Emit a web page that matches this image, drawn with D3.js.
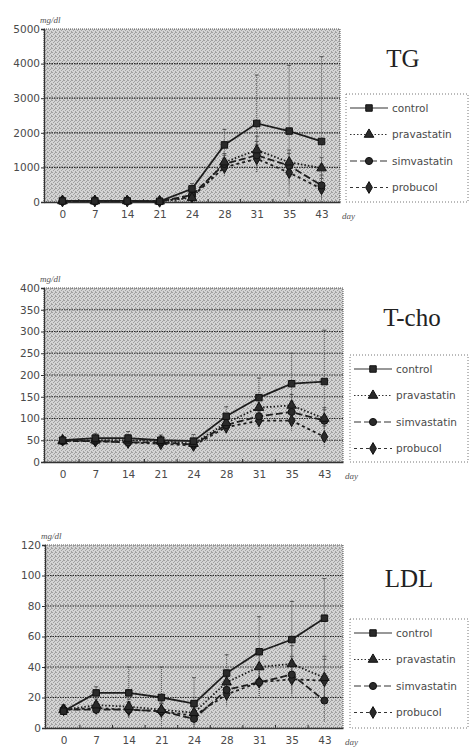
<!DOCTYPE html>
<html>
  <head>
    <meta charset="utf-8">
    <title>TG, T-cho and LDL over time</title>
    <script src="https://cdn.jsdelivr.net/npm/d3@7"></script>
    <style>
      body { margin: 0; background: #fff; }
      svg { display: block; }
      .tick text, .legendText { font-family: "DejaVu Sans", sans-serif; font-size: 10.5px; fill: #4a4a4a; }
      .title { font-family: "Liberation Serif", "DejaVu Serif", serif; font-size: 25px; fill: #222; }
      .unit, .dayLabel { font-family: "Liberation Serif", serif; font-size: 9px; fill: #555; font-style: italic; }
    </style>
  </head>
  <body>
    <svg id="chart" width="470" height="748"></svg>
    <script>
      // categories
      days = ["0", "7", "14", "21", "24", "28", "31", "35", "43"];
      groups = ["control", "pravastatin", "simvastatin", "probucol"];
      // TG (mg/dl)
      tgControl = [30, 30, 30, 20, 380, 1650, 2270, 2050, 1750];
      tgPrava = [30, 30, 30, 20, 120, 1150, 1500, 1150, 980];
      tgSimva = [30, 30, 30, 20, 200, 1100, 1350, 1050, 480];
      tgProbu = [30, 30, 30, 20, 150, 1000, 1250, 850, 380];
      tgControlSd = [20, 20, 20, 20, 150, 450, 1400, 1900, 2450];
      tgDrugSd = [10, 10, 10, 10, 80, 250, 400, 350, 300];
      tgTicks = [0, 1000, 2000, 3000, 4000, 5000];
      // T-cho (mg/dl)
      tchoControl = [50, 55, 55, 50, 48, 105, 148, 180, 185];
      tchoPrava = [48, 50, 50, 48, 42, 90, 125, 130, 100];
      tchoSimva = [48, 48, 45, 45, 40, 85, 105, 115, 95];
      tchoProbu = [50, 48, 45, 42, 38, 80, 95, 95, 58];
      tchoControlSd = [8, 10, 15, 12, 15, 22, 45, 70, 118];
      tchoDrugSd = [6, 8, 12, 10, 10, 15, 20, 25, 25];
      tchoTicks = [0, 50, 100, 150, 200, 250, 300, 350, 400];
      // LDL (mg/dl)
      ldlControl = [11, 23, 23, 20, 16, 36, 50, 58, 72];
      ldlPrava = [12, 15, 14, 12, 10, 30, 40, 42, 33];
      ldlSimva = [12, 12, 12, 11, 6, 25, 30, 35, 18];
      ldlProbu = [12, 13, 12, 11, 8, 22, 30, 32, 31];
      ldlControlSd = [3, 4, 17, 20, 17, 12, 23, 25, 26];
      ldlDrugSd = [3, 4, 5, 5, 6, 8, 10, 12, 14];
      ldlTicks = [0, 20, 40, 60, 80, 100, 120];

      // page layout for each panel
      panels = [
        { title: "TG", ticks: tgTicks, series: [tgControl, tgPrava, tgSimva, tgProbu], sd: [tgControlSd, tgDrugSd, tgDrugSd, tgDrugSd],
          top: 29, bottom: 202, left: 44, right: 340, titleX: 403, titleY: 67, legend: [346, 94, 122, 108] },
        { title: "T-cho", ticks: tchoTicks, series: [tchoControl, tchoPrava, tchoSimva, tchoProbu], sd: [tchoControlSd, tchoDrugSd, tchoDrugSd, tchoDrugSd],
          top: 288, bottom: 462, left: 44, right: 343, titleX: 412, titleY: 326, legend: [350, 355, 118, 107] },
        { title: "LDL", ticks: ldlTicks, series: [ldlControl, ldlPrava, ldlSimva, ldlProbu], sd: [ldlControlSd, ldlDrugSd, ldlDrugSd, ldlDrugSd],
          top: 545, bottom: 728, left: 45, right: 343, titleX: 409, titleY: 587, legend: [350, 619, 118, 109] }
      ];
      // line and marker styles
      styles = [
        { dash: null, symbol: d3.symbolSquare, size: 42 },
        { dash: "1.5,2", symbol: d3.symbolTriangle, size: 40 },
        { dash: "7,3", symbol: d3.symbolCircle, size: 40 },
        { dash: "3,3", symbol: d3.symbolDiamond, size: 40 }
      ];

      svg = d3.select("#chart");
      // halftone-ish background
      pattern = svg.append("defs").append("pattern")
        .attr("id", "dots")
        .attr("width", 4).attr("height", 4)
        .attr("patternUnits", "userSpaceOnUse");
      pattern.append("rect").attr("width", 4).attr("height", 4).attr("fill", "#d4d4d4");
      [[0, 0], [2, 1], [1, 2], [3, 3], [3, 0]].forEach(function(p) {
        pattern.append("rect").attr("x", p[0]).attr("y", p[1]).attr("width", 1).attr("height", 1).attr("fill", "#a0a0a0");
      });

      panels.forEach(function(p) {
        let g = svg.append("g");
        let x = d3.scalePoint().domain(days).range([p.left, p.right]).padding(0.57);
        let y = d3.scaleLinear().domain([0, d3.max(p.ticks)]).range([p.bottom, p.top]);
        // plot area
        g.append("rect")
          .attr("x", p.left).attr("y", p.top)
          .attr("width", p.right - p.left).attr("height", p.bottom - p.top)
          .attr("fill", "url(#dots)")
          .attr("stroke", "#555").attr("stroke-dasharray", "1,1");
        // gridlines
        g.selectAll(".grid")
            .data(p.ticks.slice(1, -1))
          .enter().append("line")
            .attr("x1", p.left).attr("x2", p.right)
            .attr("y1", function(d) { return y(d); }).attr("y2", function(d) { return y(d); })
            .attr("stroke", "#2a2a2a").attr("stroke-width", 1.2).attr("stroke-dasharray", "1.5,1");
        // axes
        let yAxis = g.append("g")
          .attr("transform", "translate(" + p.left + ",0)")
          .call(d3.axisLeft(y).tickValues(p.ticks).tickSize(3).tickPadding(1).tickFormat(d3.format("d")));
        yAxis.select(".domain").attr("stroke", "#333").attr("stroke-width", 1.3);
        yAxis.selectAll(".tick line").attr("stroke", "#333");
        let xAxis = g.append("g")
          .attr("transform", "translate(0," + p.bottom + ")")
          .call(d3.axisBottom(x).tickSize(0).tickPadding(9));
        xAxis.select(".domain").attr("stroke", "#333").attr("stroke-width", 1.3);
        // small ticks between days
        g.selectAll(".minor")
            .data(days.slice(1))
          .enter().append("line")
            .attr("x1", function(d) { return x(d) - x.step() / 2; })
            .attr("x2", function(d) { return x(d) - x.step() / 2; })
            .attr("y1", p.bottom).attr("y2", p.bottom - 3)
            .attr("stroke", "#333");
        g.append("text").attr("class", "unit")
          .attr("x", p.left - 4).attr("y", p.top - 6).text("mg/dl");
        g.append("text").attr("class", "dayLabel")
          .attr("x", p.right + 2).attr("y", p.bottom + 17).text("day");
        g.append("text").attr("class", "title")
          .attr("x", p.titleX).attr("y", p.titleY)
          .attr("text-anchor", "middle").text(p.title);
        // error bars
        p.series.forEach(function(s, i) {
          g.selectAll(".err" + i)
              .data(s)
            .enter().append("line")
              .attr("x1", function(d, j) { return x(days[j]); })
              .attr("x2", function(d, j) { return x(days[j]); })
              .attr("y1", function(d, j) { return y(Math.min(d3.max(p.ticks), d + p.sd[i][j])); })
              .attr("y2", function(d, j) { return y(Math.max(0, d - p.sd[i][j])); })
              .attr("stroke", "#555").attr("stroke-dasharray", "1,1");
          g.selectAll(".cap" + i)
              .data(s)
            .enter().append("line")
              .attr("x1", function(d, j) { return x(days[j]) - 2; })
              .attr("x2", function(d, j) { return x(days[j]) + 2; })
              .attr("y1", function(d, j) { return y(Math.min(d3.max(p.ticks), d + p.sd[i][j])); })
              .attr("y2", function(d, j) { return y(Math.min(d3.max(p.ticks), d + p.sd[i][j])); })
              .attr("stroke", "#555");
        });
        // series lines and markers
        line = d3.line()
          .x(function(d, j) { return x(days[j]); })
          .y(function(d) { return y(d); });
        p.series.slice().reverse().forEach(function(s, k) {
          let i = p.series.length - 1 - k;
          g.append("path")
            .datum(s)
            .attr("d", line)
            .attr("fill", "none")
            .attr("stroke", "#1e1e1e")
            .attr("stroke-width", 1.8)
            .attr("stroke-dasharray", styles[i].dash);
          g.selectAll(".mark" + i)
              .data(s)
            .enter().append("path")
              .attr("transform", function(d, j) { return "translate(" + x(days[j]) + "," + y(d) + ")"; })
              .attr("d", d3.symbol().type(styles[i].symbol).size(styles[i].size))
              .attr("fill", "#2a2a2a")
              .attr("stroke", "#111");
        });
        // legend
        let lg = g.append("g").attr("transform", "translate(" + p.legend[0] + "," + p.legend[1] + ")");
        lg.append("rect")
          .attr("width", p.legend[2]).attr("height", p.legend[3])
          .attr("fill", "#fff").attr("stroke", "#777").attr("stroke-dasharray", "1,2");
        let entries = lg.selectAll(".entry")
            .data(groups)
          .enter().append("g")
            .attr("transform", function(d, i) { return "translate(0," + (14 + i * 26.5) + ")"; });
        entries.append("line")
          .attr("x1", 4).attr("x2", 42)
          .attr("stroke", "#333").attr("stroke-width", 1.2)
          .attr("stroke-dasharray", function(d, i) { return styles[i].dash; });
        entries.append("path")
          .attr("transform", "translate(23,0)")
          .attr("d", function(d, i) { return d3.symbol().type(styles[i].symbol).size(styles[i].size)(); })
          .attr("fill", "#2a2a2a").attr("stroke", "#111");
        entries.append("text")
          .attr("class", "legendText")
          .attr("x", 46).attr("dy", "0.35em")
          .text(function(d) { return d; });
      });
    </script>
  </body>
</html>
